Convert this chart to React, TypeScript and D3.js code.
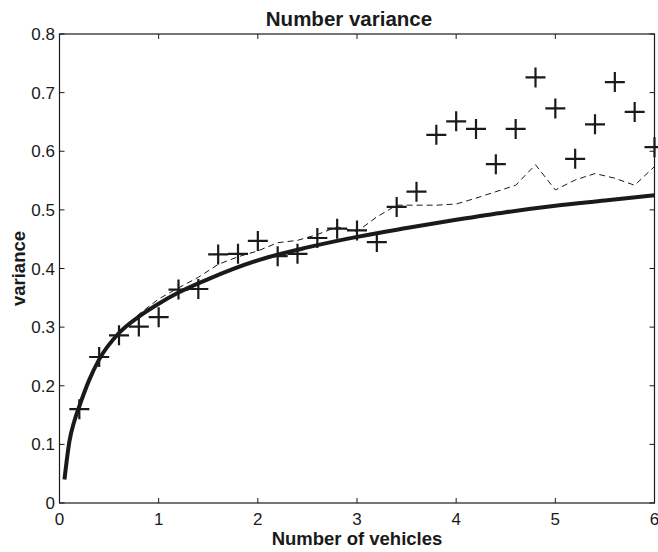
import React, { useEffect, useRef } from "react";
import * as d3 from "d3";

const W = 658;
const H = 552;
const margin = { left: 59.5, right: 3.5, top: 34, bottom: 49 };

const xTicks = [0, 1, 2, 3, 4, 5, 6];
const yTicks = [0, 0.1, 0.2, 0.3, 0.4, 0.5, 0.6, 0.7, 0.8];
const yTickLabels = ["0", "0.1", "0.2", "0.3", "0.4", "0.5", "0.6", "0.7", "0.8"];

// simulated points (crosses)
const simX = [0.2, 0.4, 0.6, 0.8, 1.0, 1.2, 1.4, 1.6, 1.8, 2.0, 2.2, 2.4, 2.6, 2.8, 3.0, 3.2, 3.4, 3.6, 3.8, 4.0, 4.2, 4.4, 4.6, 4.8, 5.0, 5.2, 5.4, 5.6, 5.8, 6.0];
const simY = [0.160, 0.249, 0.286, 0.301, 0.317, 0.364, 0.365, 0.424, 0.425, 0.447, 0.421, 0.425, 0.452, 0.468, 0.465, 0.445, 0.505, 0.531, 0.628, 0.651, 0.638, 0.578, 0.638, 0.726, 0.673, 0.587, 0.646, 0.718, 0.667, 0.607];

// dashed line
const dashY = [0.163, 0.250, 0.291, 0.322, 0.348, 0.367, 0.385, 0.407, 0.420, 0.430, 0.444, 0.448, 0.458, 0.471, 0.463, 0.488, 0.508, 0.508, 0.508, 0.510, 0.520, 0.531, 0.542, 0.577, 0.534, 0.551, 0.562, 0.554, 0.542, 0.574];

// theoretical curve (solid)
const theoX = [0.05, 0.1, 0.15, 0.2, 0.3, 0.4, 0.6, 0.8, 1.0, 1.2, 1.5, 2.0, 2.5, 3.0, 3.5, 4.0, 4.5, 5.0, 5.5, 6.0];
const theoY = [0.040, 0.105, 0.140, 0.165, 0.210, 0.245, 0.290, 0.318, 0.340, 0.359, 0.382, 0.414, 0.436, 0.454, 0.469, 0.483, 0.496, 0.507, 0.516, 0.525];

export default function App() {
  const ref = useRef<SVGSVGElement>(null);

  useEffect(() => {
    const svg = d3.select(ref.current);
    svg.selectAll("*").remove();
    const x = d3.scaleLinear().domain([0, 6]).range([margin.left, W - margin.right]);
    const y = d3.scaleLinear().domain([0, 0.8]).range([H - margin.bottom, margin.top]);
    const font = "'Liberation Sans', Arial, Helvetica, sans-serif";
    const ink = "#1a1a1a";

    svg.append("rect").attr("width", W).attr("height", H).attr("fill", "#fff");

    const x0 = x(0), x1 = x(6), y0 = y(0), y1 = y(0.8);
    svg.append("rect").attr("x", x0).attr("y", y1).attr("width", x1 - x0).attr("height", y0 - y1)
      .attr("fill", "none").attr("stroke", ink).attr("stroke-width", 1.2);

    const tl = 5;
    xTicks.forEach((t) => {
      const px = x(t);
      svg.append("line").attr("x1", px).attr("x2", px).attr("y1", y0).attr("y2", y0 - tl).attr("stroke", ink);
      svg.append("line").attr("x1", px).attr("x2", px).attr("y1", y1).attr("y2", y1 + tl).attr("stroke", ink);
      svg.append("text").attr("x", px).attr("y", y0 + 22).attr("text-anchor", "middle")
        .attr("font-family", font).attr("font-size", 17).attr("fill", ink).text(String(t));
    });
    yTicks.forEach((t, i) => {
      const py = y(t);
      svg.append("line").attr("x1", x0).attr("x2", x0 + tl).attr("y1", py).attr("y2", py).attr("stroke", ink);
      svg.append("line").attr("x1", x1).attr("x2", x1 - tl).attr("y1", py).attr("y2", py).attr("stroke", ink);
      svg.append("text").attr("x", x0 - 4.5).attr("y", py + 6).attr("text-anchor", "end")
        .attr("font-family", font).attr("font-size", 17).attr("fill", ink).text(yTickLabels[i]);
    });

    const line = d3.line<[number, number]>().x((d) => x(d[0])).y((d) => y(d[1])).curve(d3.curveMonotoneX);
    svg.append("path").attr("d", line(theoX.map((v, i) => [v, theoY[i]]) as [number, number][]))
      .attr("fill", "none").attr("stroke", ink).attr("stroke-width", 4);

    const lin = d3.line<[number, number]>().x((d) => x(d[0])).y((d) => y(d[1]));
    svg.append("path").attr("d", lin(simX.map((v, i) => [v, dashY[i]]) as [number, number][]))
      .attr("fill", "none").attr("stroke", ink).attr("stroke-width", 1).attr("stroke-dasharray", "6,4");

    const r = 10;
    const g = svg.append("g");
    simX.forEach((v, i) => {
      const px = x(v), py = y(simY[i]);
      g.append("path").attr("d", `M${px - r},${py}H${px + r}M${px},${py - r}V${py + r}`)
        .attr("stroke", ink).attr("stroke-width", 2.2).attr("fill", "none");
    });

    svg.append("text").attr("x", 349).attr("y", 26).attr("text-anchor", "middle")
      .attr("font-family", font).attr("font-weight", "bold").attr("font-size", 20.5).attr("fill", ink).text("Number variance");
    svg.append("text").attr("x", (x0 + x1) / 2).attr("y", 545).attr("text-anchor", "middle")
      .attr("font-family", font).attr("font-weight", "bold").attr("font-size", 18.5).attr("fill", ink).text("Number of vehicles");
    svg.append("text").attr("transform", `translate(25,${(y0 + y1) / 2}) rotate(-90)`).attr("text-anchor", "middle")
      .attr("font-family", font).attr("font-weight", "bold").attr("font-size", 18.5).attr("fill", ink).text("variance");
  }, []);

  return <svg ref={ref} width={W} height={H} style={{ position: "absolute", left: 0, top: 0 }} />;
}
